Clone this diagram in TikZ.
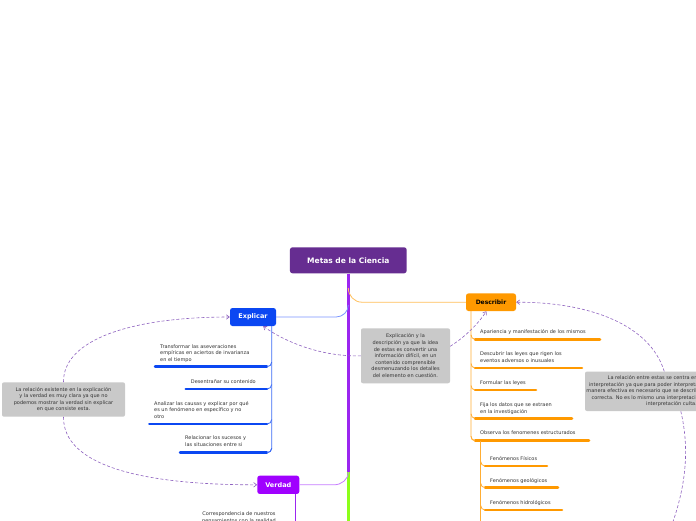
\documentclass[tikz,border=0pt]{standalone}
\usepackage{fontspec}
\setmainfont{DejaVu Sans}
\usetikzlibrary{arrows.meta}
\definecolor{titlepurple}{HTML}{662D91}
\definecolor{trunkpurple}{HTML}{9B26F0}
\definecolor{explblue}{HTML}{0B47F2}
\definecolor{expllight}{HTML}{7A95FF}
\definecolor{orangebox}{HTML}{FF9900}
\definecolor{orangelight}{HTML}{FFBF5A}
\definecolor{verdadpurple}{HTML}{A000FF}
\definecolor{verdadlight}{HTML}{C77DFF}
\definecolor{trunkgreen}{HTML}{8CFF1A}
\definecolor{notegrey}{HTML}{C9C9C9}
\definecolor{txtgrey}{HTML}{333333}
\definecolor{dashpurple}{HTML}{8E62C0}
\tikzset{
  mainbox/.style={rounded corners=2.5pt, inner sep=0pt, font=\fontsize{6.5}{7}\selectfont\bfseries, text=white},
  childtxt/.style={font=\fontsize{5}{6.6}\selectfont, text=txtgrey, align=left, inner sep=0pt, anchor=base west},
  notebox/.style={fill=notegrey, rounded corners=2pt, font=\fontsize{5}{6.6}\selectfont, text=txtgrey, align=center, inner sep=0pt},
  uline/.style={line width=2.5pt, line cap=round},
  thinline/.style={line width=0.8pt},
  rel/.style={dashpurple, line width=0.6pt, dash pattern=on 3pt off 2pt, -{Straight Barb[length=3pt,width=4.5pt]}},
  relplain/.style={dashpurple, line width=0.6pt, dash pattern=on 3pt off 2pt},
}
\begin{document}
\begin{tikzpicture}[x=1pt,y=-1pt]
\useasboundingbox (0,0) rectangle (696,520);
\clip (0,0) rectangle (696,520);
\fill[white] (0,0) rectangle (696,520);

% main boxes
\node[mainbox, fill=titlepurple, minimum width=116.7pt, minimum height=26pt, font=\fontsize{7.5}{8}\selectfont\bfseries] (title) at (348.3,260.3) {Metas de la Ciencia};
\node[mainbox, fill=explblue, minimum width=46pt, minimum height=18pt] (explicar) at (253,317) {Explicar};
\node[mainbox, fill=orangebox, text=black, minimum width=50pt, minimum height=17.6pt, font=\fontsize{6}{7}\selectfont\bfseries] (describir) at (491,302.2) {Describir};
\node[mainbox, fill=verdadpurple, minimum width=42pt, minimum height=18.3pt] (verdad) at (278.3,484.8) {Verdad};

% trunk
\coordinate (trunkend) at (348.3,472);
\coordinate (greenend) at (348.3,530);
\draw[trunkgreen, line width=2.5pt] (trunkend) -- (greenend);
\draw[trunkpurple, line width=2.5pt] (title.south) -- (trunkend);
\draw[expllight, thinline] (explicar.east) -- (336,317) to[out=0,in=-90] (348.3,305);
\draw[orangelight, thinline] (348.3,288) to[out=-90,in=180] (362,302.2) -- (describir.west);
\draw[verdadlight, thinline] (verdad.east) -- (334,484.8) to[out=0,in=-90] (trunkend);

% Explicar children
\draw[explblue!80, thinline] (explicar.south -| 271.7,0) -- (271.7,448.5) to[out=-90,in=0] (267,452.7);
\node[childtxt] (e1) at (160,361.5) {Transformar las aseveraciones\\empíricas en aciertos de invarianza\\en el tiempo};
\node[childtxt] (e2) at (190.7,383.2) {Desentrañar su contenido};
\node[childtxt] (e3) at (154,418.2) {Analizar las causas y explicar por qué\\es un fenómeno en específico y no\\otro};
\node[childtxt] (e4) at (185,446.4) {Relacionar los sucesos  y\\las situaciones entre si};
\foreach \y/\xl in {366.7/155, 389/185.7, 424/149.3, 452.7/180}{
  \draw[explblue, uline] (\xl,\y) -- (267,\y);
  \draw[explblue!80, thinline] (271.7,\y-4.5) to[out=-90,in=0] (267,\y);
}

% Describir children
\draw[orangebox!80, thinline] (describir.south -| 471,0) -- (471,436.5) to[out=-90,in=180] (475,440.7);
\node[childtxt] (d1) at (480,333.8) {Apariencia y manifestación de los mismos};
\node[childtxt] (d2) at (480,362.5) {Descubrir las leyes que rigen los\\eventos adversos o inusuales};
\node[childtxt] (d3) at (480,384.8) {Formular las leyes};
\node[childtxt] (d4) at (480,413.2) {Fija los datos que se extraen\\en la investigación};
\node[childtxt] (d5) at (480,434.8) {Observa los fenomenes estructurados};
\foreach \y/\xr in {339.3/600, 368/582, 390/536, 418.3/572, 440.7/589}{
  \draw[orangebox, uline] (475,\y) -- (\xr,\y);
  \draw[orangebox!80, thinline] (471,\y-4.5) to[out=-90,in=180] (475,\y);
}
% sub children
\coordinate (subend) at (480.7,530);
\draw[orangebox!80, thinline] (480.7,440.7) -- (subend);
\node[childtxt] (s1) at (490,460.8) {Fenómenos Físicos};
\node[childtxt] (s2) at (490,482.5) {Fenómenos geológicos};
\node[childtxt] (s3) at (490,504.2) {Fenómenos hidrológicos};
\foreach \y/\xr in {466/547, 487.7/558, 510/562}{
  \draw[orangebox, uline] (485,\y) -- (\xr,\y);
  \draw[orangebox!80, thinline] (480.7,\y-4.5) to[out=-90,in=180] (485,\y);
}

% Verdad child
\coordinate (verdadend) at (295.7,530);
\draw[trunkpurple, thinline] (verdad.south -| 295.7,0) -- (verdadend);
\node[childtxt, align=center, anchor=base] (v1) at (239,522.4) {Correspondencia de nuestros\\pensamientos con la realidad};

% notes
\node[notebox, minimum width=123pt, minimum height=34.4pt] (leftnote) at (63.5,399.5) {La relación existente en la explicación\\y la verdad es muy clara ya que no\\podemos mostrar la verdad sin explicar\\en que consiste esta.};
\node[notebox, minimum width=89pt, minimum height=55pt] (midnote) at (405.5,355.8) {Explicación y la\\descripción ya que la idea\\de estas es convertir una\\información difícil, en un\\contenido comprensible\\desmenuzando los detalles\\del elemento en cuestión.};
\node[notebox, minimum width=173pt, minimum height=39.5pt] (rightnote) at (671.5,391.3) {La relación entre estas se centra en la descripción,\\interpretación ya que para poder interpretar un fenómeno de una\\manera efectiva es necesario que se describa bien de forma clara y\\correcta. No es lo mismo una interpretación superficial que una\\interpretación culta.};

% relations
\coordinate (offbottom) at (668,535);
\draw[rel] (leftnote.north) .. controls (63,340) and (130,317) .. (explicar.west);
\draw[rel] (leftnote.south) .. controls (63,465) and (140,485) .. (verdad.west);
\draw[rel] (midnote.west) .. controls (322,357) and (285,342) .. (explicar.-42);
\draw[rel] (midnote.12) .. controls (465,337) and (478,324) .. (describir.-117);
\draw[rel] (rightnote.110) .. controls (650,325) and (590,302) .. (describir.east);
\draw[relplain] (rightnote.-65) .. controls (690,450) and (686,490) .. (offbottom);
\end{tikzpicture}
\end{document}
